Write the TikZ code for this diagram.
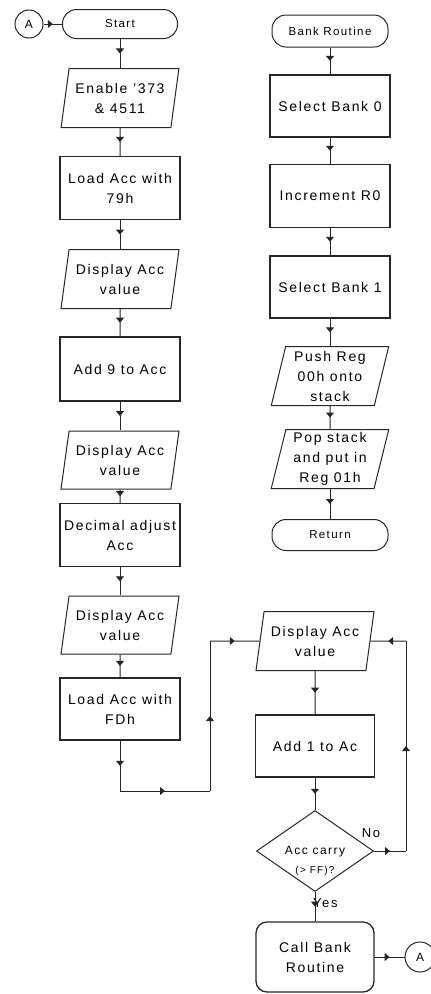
\documentclass[tikz,border=0pt]{standalone}
\usepackage{fontspec}
\setmainfont{Liberation Sans}[LetterSpace=12]
\usepackage{tikz}
\usetikzlibrary{arrows.meta,shapes.geometric,decorations.markings}
\tikzset{
  proc/.style={rectangle, draw=black!85, line width=1.3pt, minimum width=120pt, minimum height=62pt,
    inner sep=0pt, align=center, font=\fontsize{14}{20}\selectfont},
  io/.style={trapezium, trapezium left angle=77, trapezium right angle=103, trapezium stretches=true,
    draw=black!85, line width=1pt, minimum width=118pt, minimum height=59pt, inner sep=0pt,
    align=center, font=\fontsize{14}{20}\selectfont},
  term/.style={rectangle, rounded corners=14pt, draw=black!85, line width=1pt, minimum width=116pt,
    minimum height=30pt, inner sep=0pt, align=center, font=\fontsize{11.5}{14}\selectfont},
  decide/.style={diamond, draw=black!85, line width=1pt, minimum width=117pt, minimum height=81pt,
    inner sep=0pt},
  conn/.style={circle, draw=black!85, line width=1pt, minimum size=28pt, inner sep=0pt,
    font=\fontsize{12}{14}\selectfont},
  lbl/.style={inner sep=0pt, font=\fontsize{13}{15}\selectfont},
  flow/.style={draw=black!85, line width=1pt, postaction={decorate},
    decoration={markings, mark=at position 0.5 with {\arrow{Triangle[width=8pt,length=5pt]}}}},
}
\begin{document}
\begin{tikzpicture}[x=1pt,y=-1pt]
  \useasboundingbox (0,0) rectangle (431,994);
  % main program
  \node[conn] (A1) at (29,24) {A};
  \node[term, minimum width=115pt, minimum height=29pt] (Start) at (120,24) {Start};
  \node[io] (Enable) at (120,98) {Enable '373\\ \& 4511};
  \node[proc, minimum height=63pt] (Load79) at (120,188) {Load Acc with\\79h};
  \node[io] (Disp1) at (120,279) {Display Acc\\value};
  \node[proc, minimum height=64pt] (Add9) at (120,369) {Add 9 to Acc};
  \node[io, minimum height=58pt] (Disp2) at (120,460) {Display Acc\\value};
  \node[proc, minimum height=63pt] (Decimal) at (120,535) {Decimal adjust\\Acc};
  \node[io, minimum height=58pt] (Disp3) at (120,625) {Display Acc\\value};
  \node[proc] (LoadFD) at (120,709) {Load Acc with\\FDh};
  \coordinate (c1) at (120,791);
  \coordinate (c2) at (210,791);
  \coordinate (c3) at (210,641);

  % bank routine
  \node[term, minimum height=32pt] (Bank) at (330,31) {Bank Routine};
  \node[proc] (Sel0) at (330,106) {Select Bank 0};
  \node[proc, minimum height=63pt] (Inc) at (330,196) {Increment R0};
  \node[proc] (Sel1) at (330,287) {Select Bank 1};
  \node[io] (Push) at (330,376) {Push Reg\\00h onto\\stack};
  \node[io] (Pop) at (330,459) {Pop stack\\and put in\\Reg 01h};
  \node[term, minimum height=31pt] (Return) at (330,535) {Return};

  % counting loop
  \node[io] (Disp4) at (315,641) {Display Acc\\value};
  \node[proc, minimum width=119pt] (Add1) at (315,746) {Add 1 to Ac};
  \node[decide] (Acc) at (315,851) {};
  \node[inner sep=0pt, align=center, font=\fontsize{12}{19}\selectfont] (AccTxt) at (315,861)
    {Acc carry\\\fontsize{10}{12}\selectfont(> FF)?};
  \node[proc, rounded corners=11pt, minimum width=118pt, minimum height=70pt] (Call) at (315,957) {Call Bank\\Routine};
  \node[conn, minimum size=30pt] (A2) at (420,957) {A};
  \coordinate (c4) at (406,851);
  \coordinate (c5) at (406,641);
  \node[lbl, anchor=west] (yes) at (313,903) {Yes};
  \node[lbl] (no) at (371,833) {No};

  \draw[flow] (A1) -- (Start);
  \draw[flow] (Start) -- (Enable);
  \draw[flow] (Enable) -- (Load79);
  \draw[flow] (Load79) -- (Disp1);
  \draw[flow] (Disp1) -- (Add9);
  \draw[flow] (Add9) -- (Disp2);
  \draw[flow] (Disp2) -- (Decimal);
  \draw[flow] (Decimal) -- (Disp3);
  \draw[flow] (Disp3) -- (LoadFD);
  \draw[flow] (LoadFD) -- (c1);
  \draw[flow] (c1) -- (c2);
  \draw[flow] (c2) -- (c3);
  \draw[flow] (c3) -- (Disp4);

  \draw[flow] (Bank) -- (Sel0);
  \draw[flow] (Sel0) -- (Inc);
  \draw[flow] (Inc) -- (Sel1);
  \draw[flow] (Sel1) -- (Push);
  \draw[flow] (Push) -- (Pop);
  \draw[flow] (Pop) -- (Return);

  \draw[flow] (Disp4) -- (Add1);
  \draw[flow] (Add1) -- (Acc);
  \draw[flow] (Acc) -- (Call);
  \draw[flow] (Acc) -- (c4);
  \draw[flow] (c4) -- (c5);
  \draw[flow] (c5) -- (Disp4);
  \draw[flow] (Call) -- (A2);
\end{tikzpicture}
\end{document}
